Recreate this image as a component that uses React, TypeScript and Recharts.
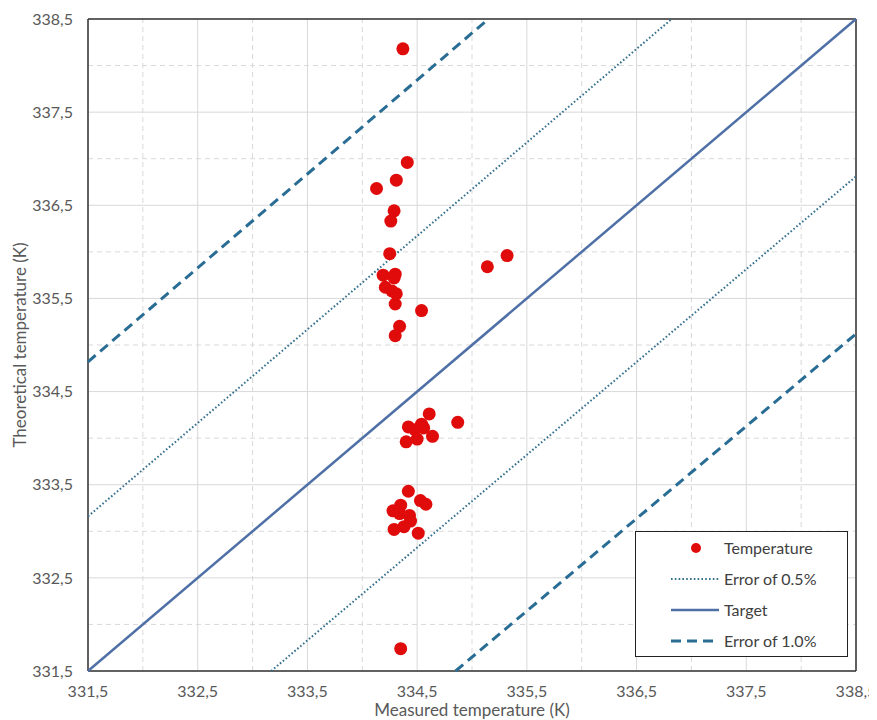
import React from 'react';
import {
  ScatterChart,
  Scatter,
  XAxis,
  YAxis,
  CartesianGrid,
  ReferenceLine,
  Legend,
  Label,
} from 'recharts';

// ---- Data ----
const axisTicks = [331.5, 332.5, 333.5, 334.5, 335.5, 336.5, 337.5, 338.5];
const minorGrid = [332, 333, 334, 335, 336, 337, 338];

const measured = [
  334.37, 334.41, 334.31, 334.13, 334.29, 334.26, 334.25, 335.32, 335.14, 334.19,
  334.30, 334.29, 334.21, 334.27, 334.31, 334.30, 334.54, 334.34, 334.30, 334.61,
  334.87, 334.42, 334.54, 334.48, 334.56, 334.64, 334.40, 334.50, 334.42, 334.53,
  334.58, 334.35, 334.28, 334.34, 334.43, 334.44, 334.38, 334.29, 334.51, 334.35,
];
const theoretical = [
  338.18, 336.96, 336.77, 336.68, 336.44, 336.33, 335.98, 335.96, 335.84, 335.75,
  335.76, 335.72, 335.62, 335.58, 335.55, 335.44, 335.37, 335.20, 335.10, 334.26,
  334.17, 334.12, 334.15, 334.09, 334.11, 334.02, 333.96, 333.99, 333.43, 333.33,
  333.29, 333.28, 333.22, 333.19, 333.17, 333.11, 333.05, 333.02, 332.98, 331.74,
];

const targetX = [331.5, 338.5];
const targetY = [331.5, 338.5];
const err05UpperX = [331.5, 336.82];
const err05UpperY = [333.16, 338.5];
const err05LowerX = [333.17, 338.5];
const err05LowerY = [331.5, 336.81];
const err10UpperX = [331.5, 335.15];
const err10UpperY = [334.82, 338.5];
const err10LowerX = [334.85, 338.5];
const err10LowerY = [331.5, 335.12];

const legendOrder = ['Temperature', 'Error of 0.5%', 'Target', 'Error of 1.0%'];

// ---- Helpers ----
const zip = (xs: number[], ys: number[]) => xs.map((x, i) => ({ x, y: ys[i] }));
const pointsData = zip(measured, theoretical);
const targetData = zip(targetX, targetY);
const err05UpperData = zip(err05UpperX, err05UpperY);
const err05LowerData = zip(err05LowerX, err05LowerY);
const err10UpperData = zip(err10UpperX, err10UpperY);
const err10LowerData = zip(err10LowerX, err10LowerY);

const FONT = 'Lato, "Open Sans", sans-serif';
const TEXT_GRAY = '#595959';
const POINT_RED = '#e00b0b';

const lineStyles: Record<string, { stroke: string; strokeWidth: number; strokeDasharray?: string }> = {
  'Error of 0.5%': { stroke: '#35708f', strokeWidth: 2, strokeDasharray: '1.6 2.2' },
  Target: { stroke: '#4f70a6', strokeWidth: 2.5 },
  'Error of 1.0%': { stroke: '#2a6d94', strokeWidth: 3, strokeDasharray: '10 6' },
};

const fmt = (v: number) => v.toFixed(1).replace('.', ',');

const NoShape = () => <g />;
const RedDot = (props: any) => <circle cx={props.cx} cy={props.cy} r={6.5} fill={POINT_RED} />;

const LegendContent = (props: any) => {
  const payload = (props.payload || [])
    .filter((p: any) => legendOrder.includes(p.value))
    .sort((a: any, b: any) => legendOrder.indexOf(a.value) - legendOrder.indexOf(b.value));
  return (
    <div
      style={{
        border: '1.3px solid #222',
        background: '#fff',
        width: 211,
        height: 124,
        fontFamily: FONT,
        fontSize: 16,
        color: '#404040',
      }}
    >
      {payload.map((entry: any) => {
        const st = lineStyles[entry.value];
        return (
          <div key={entry.value} style={{ display: 'flex', alignItems: 'center', height: 31 }}>
            <svg width={48} height={14} style={{ marginLeft: 35, marginRight: 5 }}>
              {st ? (
                <line x1={0} y1={7} x2={48} y2={7} stroke={st.stroke} strokeWidth={st.strokeWidth} strokeDasharray={st.strokeDasharray} />
              ) : (
                <circle cx={25} cy={7} r={5} fill={POINT_RED} />
              )}
            </svg>
            <span>{entry.value}</span>
          </div>
        );
      })}
    </div>
  );
};

export default function App() {
  return (
    <div style={{ fontFamily: FONT }}>
      <style>{`html { overflow: hidden; } svg.recharts-surface { overflow: visible; }`}</style>
      <ScatterChart width={869} height={712} margin={{ top: 11, right: 21, left: 4, bottom: 9 }}>
        <CartesianGrid stroke="#d9d9d9" strokeWidth={1} />
        {minorGrid.map((v) => (
          <ReferenceLine key={'vx' + v} x={v} stroke="#d9d9d9" strokeDasharray="5 4" />
        ))}
        {minorGrid.map((v) => (
          <ReferenceLine key={'hy' + v} y={v} stroke="#d9d9d9" strokeDasharray="5 4" />
        ))}
        <XAxis
          type="number"
          dataKey="x"
          domain={[331.5, 338.5]}
          ticks={axisTicks}
          interval={0}
          tickFormatter={fmt}
          tickLine={false}
          tickSize={6}
          tickMargin={9}
          height={40}
          fontSize={16}
          axisLine={{ stroke: '#333', strokeWidth: 1.5 }}
          tick={{ fill: TEXT_GRAY, fontSize: 16, fontFamily: FONT }}
        >
          <Label
            value="Measured temperature (K)"
            position="insideBottom"
            offset={-5}
            style={{ fill: TEXT_GRAY, fontSize: 17, fontFamily: FONT }}
          />
        </XAxis>
        <YAxis
          type="number"
          dataKey="y"
          domain={[331.5, 338.5]}
          ticks={axisTicks}
          interval={0}
          tickFormatter={fmt}
          tickLine={false}
          tickSize={6}
          tickMargin={9}
          width={76}
          fontSize={16}
          axisLine={{ stroke: '#333', strokeWidth: 1.5 }}
          tick={{ fill: TEXT_GRAY, fontSize: 16, fontFamily: FONT }}
        >
          <Label
            value="Theoretical temperature (K)"
            angle={-90}
            position="insideLeft"
            offset={8}
            style={{ fill: TEXT_GRAY, fontSize: 17, fontFamily: FONT, textAnchor: 'middle' }}
          />
        </YAxis>
        <ReferenceLine y={338.5} stroke="#333" strokeWidth={1.5} />
        <ReferenceLine x={338.5} stroke="#333" strokeWidth={1.5} />

        <Scatter name="Error of 0.5%" data={err05UpperData} line={lineStyles['Error of 0.5%']} shape={NoShape} fill={lineStyles['Error of 0.5%'].stroke} isAnimationActive={false} />
        <Scatter name="Error of 0.5% lower" legendType="none" data={err05LowerData} line={lineStyles['Error of 0.5%']} shape={NoShape} fill={lineStyles['Error of 0.5%'].stroke} isAnimationActive={false} />
        <Scatter name="Target" data={targetData} line={lineStyles.Target} shape={NoShape} fill={lineStyles.Target.stroke} isAnimationActive={false} />
        <Scatter name="Error of 1.0%" data={err10UpperData} line={lineStyles['Error of 1.0%']} shape={NoShape} fill={lineStyles['Error of 1.0%'].stroke} isAnimationActive={false} />
        <Scatter name="Error of 1.0% lower" legendType="none" data={err10LowerData} line={lineStyles['Error of 1.0%']} shape={NoShape} fill={lineStyles['Error of 1.0%'].stroke} isAnimationActive={false} />
        <Scatter name="Temperature" data={pointsData} shape={RedDot} fill={POINT_RED} isAnimationActive={false} />

        <Legend
          layout="horizontal"
          verticalAlign="middle"
          align="center"
          content={LegendContent}
          wrapperStyle={{ left: 627, top: 523, width: 'auto', height: 'auto' }}
        />
      </ScatterChart>
    </div>
  );
}
